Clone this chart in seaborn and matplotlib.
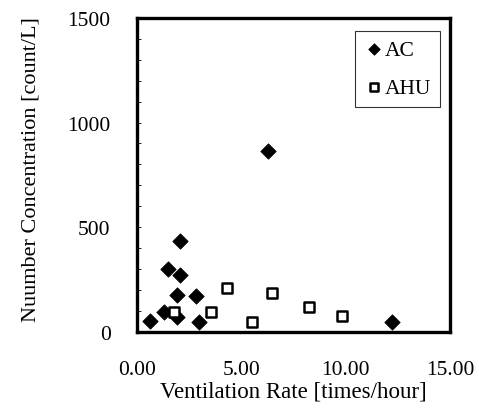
import numpy as np
import pandas as pd
import matplotlib
matplotlib.use('Agg')
import matplotlib.pyplot as plt
from matplotlib.ticker import MultipleLocator, FormatStrFormatter
import seaborn as sns

# values
ac_rate = [2.07, 1.50, 2.07, 1.90, 2.84, 1.30, 1.90, 0.63, 2.95, 6.30, 12.24]
ac_conc = [436, 302, 273, 177, 172, 97, 70, 53, 49, 862, 46]
ahu_rate = [1.75, 3.54, 4.31, 5.51, 6.48, 8.24, 9.80]
ahu_conc = [94, 94, 212, 49, 185, 117, 78]

ac = pd.DataFrame({'rate': ac_rate, 'conc': ac_conc})
ahu = pd.DataFrame({'rate': ahu_rate, 'conc': ahu_conc})

sns.set_style('white')
plt.rcParams['font.family'] = ['Liberation Serif', 'DejaVu Serif']
for k in ['text.color', 'axes.labelcolor', 'xtick.color', 'ytick.color']:
    plt.rcParams[k] = 'black'

fs = 15.5

fig = plt.figure(figsize=(4.79, 4.10), dpi=100)
ax = fig.add_axes([0.286, 0.188, 0.6535, 0.766])

sns.scatterplot(data=ac, x='rate', y='conc', marker='D', s=62, color='black',
                edgecolor='black', linewidth=0.5, ax=ax, label='AC', zorder=3)
sns.scatterplot(data=ahu, x='rate', y='conc', marker='s', s=60, facecolor='white',
                edgecolor='black', linewidth=1.8, ax=ax, label='AHU', zorder=4)

ax.set_xlim(0, 15)
ax.set_ylim(0, 1500)
ax.xaxis.set_major_locator(MultipleLocator(5))
ax.xaxis.set_major_formatter(FormatStrFormatter('%.2f'))
ax.yaxis.set_major_locator(MultipleLocator(500))
ax.yaxis.set_minor_locator(MultipleLocator(100))
ax.tick_params(axis='x', which='major', labelsize=fs, direction='in', length=0, pad=20)
ax.tick_params(axis='y', which='major', labelsize=fs, direction='in', length=3,
               width=0.6, left=True, pad=19)
ax.tick_params(axis='y', which='minor', direction='in', length=3, width=0.6, left=True)

for sp in ax.spines.values():
    sp.set_linewidth(2.4)
    sp.set_color('black')

ax.set_xlabel('Ventilation Rate [times/hour]', fontsize=16.5, labelpad=1)
ax.set_ylabel('Nuumber Concentration [count/L]', fontsize=16, labelpad=19)
ax.yaxis.label.set_y(0.52)

leg = ax.legend(loc='upper right', frameon=True, fancybox=False, fontsize=fs,
                handletextpad=0.0, handlelength=1.0, borderpad=0.4,
                labelspacing=0.85, markerscale=0.75, borderaxespad=0,
                bbox_to_anchor=(0.968, 0.9586))
leg.get_frame().set_edgecolor('black')
leg.get_frame().set_linewidth(0.8)

fig.savefig('out.png', dpi=100)
